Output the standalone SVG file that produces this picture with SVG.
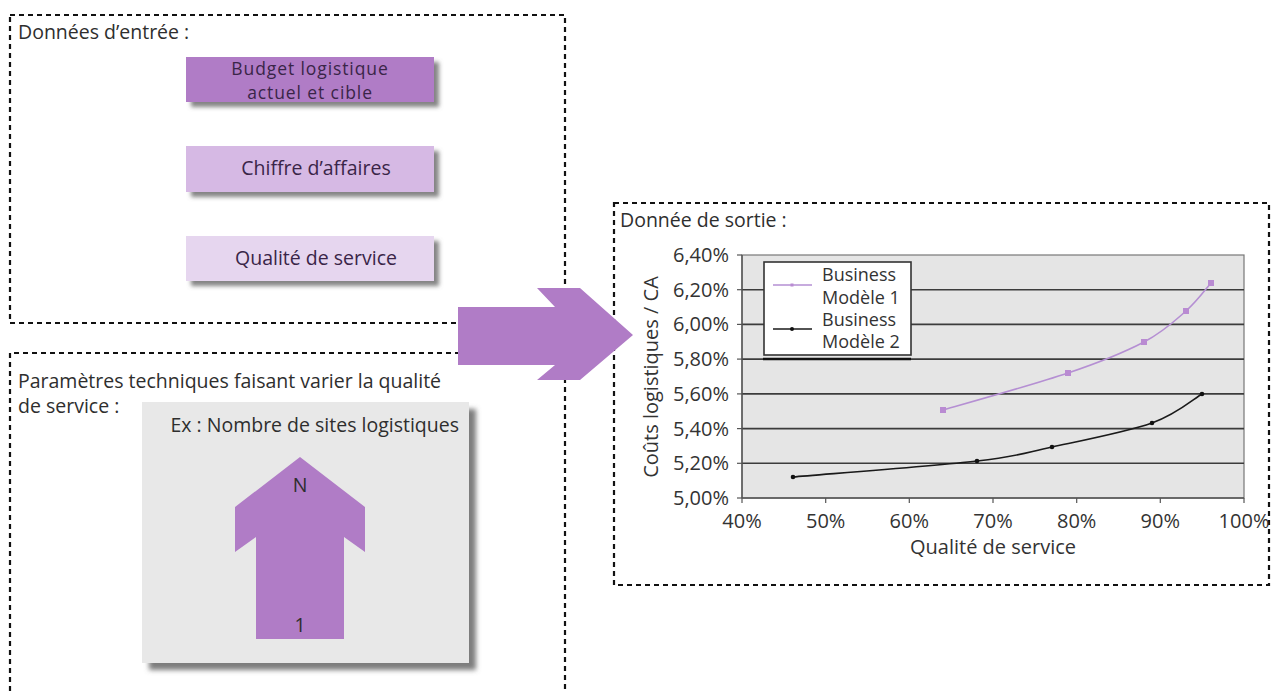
<svg xmlns="http://www.w3.org/2000/svg" width="1273" height="691" viewBox="0 0 1273 691">
  <defs>
    <style>
      .t { font-family: "Open Sans", "DejaVu Sans", sans-serif; fill: #2e2e2e; font-size: 19.5px; }
      .tb { font-family: "Open Sans", "DejaVu Sans", sans-serif; fill: #3a2548; font-size: 19.5px; text-anchor: middle; }
      .tb2 { font-family: "Open Sans", "DejaVu Sans", sans-serif; fill: #3a2548; font-size: 17.5px; letter-spacing: 0.9px; text-anchor: middle; }
      .ax { font-family: "Open Sans", "DejaVu Sans", sans-serif; fill: #333; font-size: 20px; }
      .lg { font-family: "Open Sans", "DejaVu Sans", sans-serif; fill: #333; font-size: 18px; }
      .dash { fill: none; stroke: #111; stroke-width: 2.2; stroke-dasharray: 5 4; }
      .purple { fill: #b07cc6; }
      .grid { stroke: #3c3c3c; stroke-width: 1.6; }
      .tick { stroke: #555; stroke-width: 1.2; }
    </style>
    <filter id="shadow" x="-10%" y="-10%" width="130%" height="140%">
      <feDropShadow dx="5" dy="5" stdDeviation="2" flood-color="#666" flood-opacity="0.8"/>
    </filter>
    <filter id="shadowBig" x="-10%" y="-10%" width="130%" height="130%">
      <feDropShadow dx="7" dy="7" stdDeviation="2.5" flood-color="#666" flood-opacity="0.85"/>
    </filter>
  </defs>

  <rect width="1273" height="691" fill="#ffffff"/>

  <!-- Input data frame -->
  <g id="inputs">
    <rect class="dash" x="10" y="15" width="555" height="308"/>
    <text class="t" x="18" y="39">Données d’entrée :</text>

    <g id="budget">
      <rect x="186" y="57" width="248" height="45" fill="#b07cc6" filter="url(#shadow)"/>
      <text class="tb2" x="310" y="75">Budget logistique</text>
      <text class="tb2" x="310" y="99">actuel et cible</text>
    </g>
    <g id="ca">
      <rect x="186" y="146" width="248" height="46" fill="#d6b9e4" filter="url(#shadow)"/>
      <text class="tb" x="316" y="175">Chiffre d’affaires</text>
    </g>
    <g id="qualite">
      <rect x="186" y="236" width="248" height="45" fill="#e6d6ef" filter="url(#shadow)"/>
      <text class="tb" x="316" y="265">Qualité de service</text>
    </g>
  </g>

  <!-- Technical parameters frame -->
  <g id="parametres">
    <path class="dash" d="M10,700 V353 H565 V700"/>
    <text class="t" x="18" y="388">Paramètres techniques faisant varier la qualité</text>
    <text class="t" x="18" y="413">de service :</text>

    <g id="sites">
      <rect x="142" y="402" width="327" height="261" fill="#e8e8e8" filter="url(#shadowBig)"/>
      <text class="t" x="459" y="432" text-anchor="end">Ex : Nombre de sites logistiques</text>
      <polygon class="purple" points="300,457 365,507 365,552 344,537 344,639 256,639 256,537 235,552 235,507"/>
      <text class="t" x="300" y="492" text-anchor="middle" font-size="17">N</text>
      <text class="t" x="300" y="632" text-anchor="middle" font-size="17">1</text>
    </g>
  </g>

  <!-- Output frame -->
  <g id="sortie">
    <rect class="dash" x="614" y="203" width="655" height="382"/>
    <text class="t" x="620" y="227">Donnée de sortie :</text>

    <g id="chart">
      <rect x="742" y="255" width="502" height="243" fill="#e5e5e5" stroke="#777" stroke-width="1.2"/>
      <!-- horizontal gridlines -->
      <g class="grid">
        <line x1="742" y1="289.7" x2="1244" y2="289.7"/>
        <line x1="742" y1="324.4" x2="1244" y2="324.4"/>
        <line x1="742" y1="359.1" x2="1244" y2="359.1"/>
        <line x1="742" y1="393.9" x2="1244" y2="393.9"/>
        <line x1="742" y1="428.6" x2="1244" y2="428.6"/>
        <line x1="742" y1="463.3" x2="1244" y2="463.3"/>
      </g>
      <!-- axes -->
      <line x1="742" y1="255" x2="742" y2="498" stroke="#555" stroke-width="1.4"/>
      <line x1="742" y1="498" x2="1244" y2="498" stroke="#555" stroke-width="1.6"/>
      <g class="tick">
        <line x1="737" y1="255" x2="742" y2="255"/>
        <line x1="737" y1="289.7" x2="742" y2="289.7"/>
        <line x1="737" y1="324.4" x2="742" y2="324.4"/>
        <line x1="737" y1="359.1" x2="742" y2="359.1"/>
        <line x1="737" y1="393.9" x2="742" y2="393.9"/>
        <line x1="737" y1="428.6" x2="742" y2="428.6"/>
        <line x1="737" y1="463.3" x2="742" y2="463.3"/>
        <line x1="737" y1="498" x2="742" y2="498"/>
        <line x1="742" y1="498" x2="742" y2="503"/>
        <line x1="825.7" y1="498" x2="825.7" y2="503"/>
        <line x1="909.3" y1="498" x2="909.3" y2="503"/>
        <line x1="993" y1="498" x2="993" y2="503"/>
        <line x1="1076.7" y1="498" x2="1076.7" y2="503"/>
        <line x1="1160.3" y1="498" x2="1160.3" y2="503"/>
        <line x1="1244" y1="498" x2="1244" y2="503"/>
      </g>

      <!-- y tick labels -->
      <g class="ax" text-anchor="end">
        <text x="729" y="262">6,40%</text>
        <text x="729" y="297">6,20%</text>
        <text x="729" y="331">6,00%</text>
        <text x="729" y="366">5,80%</text>
        <text x="729" y="401">5,60%</text>
        <text x="729" y="436">5,40%</text>
        <text x="729" y="470">5,20%</text>
        <text x="729" y="505">5,00%</text>
      </g>
      <!-- x tick labels -->
      <g class="ax" text-anchor="middle">
        <text x="742" y="528">40%</text>
        <text x="825.7" y="528">50%</text>
        <text x="909.3" y="528">60%</text>
        <text x="993" y="528">70%</text>
        <text x="1076.7" y="528">80%</text>
        <text x="1160.3" y="528">90%</text>
        <text x="1244" y="528">100%</text>
      </g>
      <text class="ax" x="993" y="554" text-anchor="middle" font-size="19.5">Qualité de service</text>
      <text class="ax" transform="translate(658,377) rotate(-90)" text-anchor="middle">Coûts logistiques / CA</text>

      <!-- series: Business Modèle 1 -->
      <path d="M943,410 C964,404 1034.5,384.3 1068,373 C1101.5,361.7 1124.3,352.3 1144,342 C1163.7,331.7 1174.8,320.8 1186,311 C1197.2,301.2 1206.8,287.7 1211,283" fill="none" stroke="#b58fd3" stroke-width="1.6"/>
      <g fill="#b98bd2">
        <rect x="940" y="407" width="6" height="6"/>
        <rect x="1065" y="370" width="6" height="6"/>
        <rect x="1141" y="339" width="6" height="6"/>
        <rect x="1183" y="308" width="6" height="6"/>
        <rect x="1208" y="280" width="6" height="6"/>
      </g>

      <!-- series: Business Modèle 2 -->
      <path d="M793,477 C823.7,474.3 933.8,466 977,461 C1020.2,456 1022.8,453.3 1052,447 C1081.2,440.7 1127,431.8 1152,423 C1177,414.2 1193.7,398.8 1202,394" fill="none" stroke="#1a1a1a" stroke-width="1.6"/>
      <g fill="#111">
        <circle cx="793" cy="477" r="2.3"/>
        <circle cx="977" cy="461" r="2.3"/>
        <circle cx="1052" cy="447" r="2.3"/>
        <circle cx="1152" cy="423" r="2.3"/>
        <circle cx="1202" cy="394" r="2.3"/>
      </g>

      <!-- legend -->
      <g id="legend">
        <rect x="764" y="262" width="147" height="93" fill="#ffffff" stroke="#333" stroke-width="1.6"/>
        <line x1="763" y1="359" x2="911" y2="359" stroke="#111" stroke-width="2.4"/>
        <line x1="773" y1="285" x2="812" y2="285" stroke="#b58fd3" stroke-width="1.4"/>
        <rect x="790.5" y="283.5" width="3" height="3" fill="#b98bd2"/>
        <line x1="773" y1="329" x2="812" y2="329" stroke="#1a1a1a" stroke-width="1.4"/>
        <circle cx="792" cy="329" r="2" fill="#111"/>
        <text class="lg" x="822" y="281">Business</text>
        <text class="lg" x="822" y="304">Modèle 1</text>
        <text class="lg" x="822" y="326">Business</text>
        <text class="lg" x="822" y="348">Modèle 2</text>
      </g>
    </g>
  </g>

  <!-- Flow arrow from inputs to output -->
  <g id="connectors">
    <polygon class="purple" points="458,307 555,307 537,288 580,288 633,335 580,380 537,380 555,365 458,365"/>
  </g>
</svg>
